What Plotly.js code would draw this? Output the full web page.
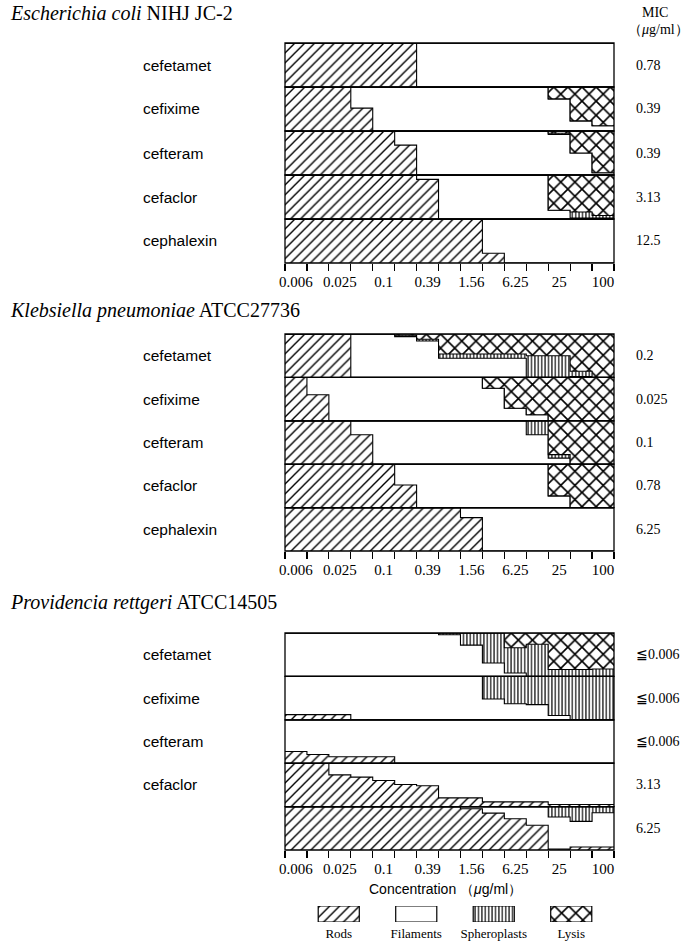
<!DOCTYPE html>
<html><head><meta charset="utf-8">
<script src="https://cdn.plot.ly/plotly-3.0.1.min.js"></script>
<style>html,body{margin:0;padding:0;background:#fff}</style>
</head><body><div id="chart" style="width:696px;height:943px"></div>
<script>
// ---------- DATA ----------
const concentrations = ['0.006','0.012','0.025','0.05','0.1','0.2','0.39','0.78','1.56','3.13','6.25','12.5','25','50','100'];
const tickLabels = ['0.006','0.025','0.1','0.39','1.56','6.25','25','100'];
const tickConcIndex = [0,2,4,6,8,10,12,14];
const legendNames = ['Rods','Filaments','Spheroplasts','Lysis'];

const ecoliTitle = '<i>Escherichia coli</i> NIHJ JC-2';
const ecoliDrugs = ['cefetamet','cefixime','cefteram','cefaclor','cephalexin'];
const ecoliMIC = ['0.78','0.39','0.39','3.13','12.5'];
const ecoliRods = [
  [100,100,100,100,100,100,0,0,0,0,0,0,0,0,0],
  [100,100,100,52,0,0,0,0,0,0,0,0,0,0,0],
  [100,100,100,100,100,68,0,0,0,0,0,0,0,0,0],
  [100,100,100,100,100,100,90,0,0,0,0,0,0,0,0],
  [100,100,100,100,100,100,100,100,100,22,0,0,0,0,0]
];
const ecoliSpheroplasts = [
  [0,0,0,0,0,0,0,0,0,0,0,0,0,0,0],
  [0,0,0,0,0,0,0,0,0,0,0,0,0,0,0],
  [0,0,0,0,0,0,0,0,0,0,0,0,3,0,0],
  [0,0,0,0,0,0,0,0,0,0,0,0,0,14,6],
  [0,0,0,0,0,0,0,0,0,0,0,0,0,0,0]
];
const ecoliLysis = [
  [0,0,0,0,0,0,0,0,0,0,0,0,0,0,0],
  [0,0,0,0,0,0,0,0,0,0,0,0,27,77,88],
  [0,0,0,0,0,0,0,0,0,0,0,0,5,50,95],
  [0,0,0,0,0,0,0,0,0,0,0,0,80,84,92],
  [0,0,0,0,0,0,0,0,0,0,0,0,0,0,0]
];

const kpTitle = '<i>Klebsiella pneumoniae</i> ATCC27736';
const kpDrugs = ['cefetamet','cefixime','cefteram','cefaclor','cephalexin'];
const kpMIC = ['0.2','0.025','0.1','0.78','6.25'];
const kpRods = [
  [100,100,100,0,0,0,0,0,0,0,0,0,0,0,0],
  [100,60,0,0,0,0,0,0,0,0,0,0,0,0,0],
  [100,100,100,68,0,0,0,0,0,0,0,0,0,0,0],
  [100,100,100,100,100,52,0,0,0,0,0,0,0,0,0],
  [100,100,100,100,100,100,100,100,77,0,0,0,0,0,0]
];
const kpSpheroplasts = [
  [0,0,0,0,0,3,4,10,10,10,10,50,50,12,0],
  [0,0,0,0,0,0,0,0,0,0,0,0,0,0,0],
  [0,0,0,0,0,0,0,0,0,0,0,32,8,0,0],
  [0,0,0,0,0,0,0,0,0,0,0,0,0,0,0],
  [0,0,0,0,0,0,0,0,0,0,0,0,0,0,0]
];
const kpLysis = [
  [0,0,0,0,0,3,12,46,46,46,46,50,50,86,100],
  [0,0,0,0,0,0,0,0,0,25,71,86,100,100,100],
  [0,0,0,0,0,0,0,0,0,0,0,0,78,100,100],
  [0,0,0,0,0,0,0,0,0,0,0,0,73,100,100],
  [0,0,0,0,0,0,0,0,0,0,0,0,0,0,0]
];

const prTitle = '<i>Providencia rettgeri</i> ATCC14505';
const prDrugs = ['cefetamet','cefixime','cefteram','cefaclor',''];
const prMIC = ['≦0.006','≦0.006','≦0.006','3.13','6.25'];
const prRods = [
  [0,0,0,0,0,0,0,0,0,0,0,0,0,0,0],
  [12,12,12,0,0,0,0,0,0,0,0,0,0,0,0],
  [27,20,15,15,15,0,0,0,0,0,0,0,0,0,0],
  [100,100,73,68,60,51,48,20,20,11,11,11,5,5,5],
  [100,100,100,100,100,100,100,100,95,85,72,57,2,7,7]
];
const prSpheroplasts = [
  [0,0,0,0,0,0,0,4,28,69,58,74,16,16,17],
  [0,0,0,0,0,0,0,0,0,52,63,65,90,100,100],
  [0,0,0,0,0,0,0,0,0,0,0,0,0,0,0],
  [0,0,0,0,0,0,0,0,0,0,0,0,0,0,0],
  [0,0,0,0,0,0,0,0,0,0,0,0,24,34,14]
];
const prLysis = [
  [0,0,0,0,0,0,0,0,0,0,34,26,84,84,83],
  [0,0,0,0,0,0,0,0,0,0,0,0,0,0,0],
  [0,0,0,0,0,0,0,0,0,0,0,0,0,0,0],
  [0,0,0,0,0,0,0,0,0,0,0,0,0,0,0],
  [0,0,0,0,0,0,0,0,0,0,0,0,0,0,0]
];

// ---------- BUILD ----------
const panels = [
  {title: ecoliTitle, drugs: ecoliDrugs, mic: ecoliMIC, rods: ecoliRods, sph: ecoliSpheroplasts, lys: ecoliLysis},
  {title: kpTitle, drugs: kpDrugs, mic: kpMIC, rods: kpRods, sph: kpSpheroplasts, lys: kpLysis},
  {title: prTitle, drugs: prDrugs, mic: prMIC, rods: prRods, sph: prSpheroplasts, lys: prLysis}
];

const W = 696, H = 943;
const px = v => v / W, py = v => 1 - v / H;
const xLeft = 285, xRight = 614;
const panelTop = [43, 334, 633], rowH = [44, 43.4, 43.4];
const titleY = [13, 310, 602];
const serif = 'Liberation Serif, Times New Roman, serif';
const sans = 'Liberation Sans, Arial, sans-serif';

const patRods = {shape: '/', fgcolor: 'black', bgcolor: 'white', size: 7, solidity: 0.2, fillmode: 'replace'};
const patSph = {shape: '|', fgcolor: 'black', bgcolor: 'white', size: 3.4, solidity: 0.34, fillmode: 'replace'};
const patLys = {shape: 'x', fgcolor: 'black', bgcolor: 'white', size: 10, solidity: 0.3, fillmode: 'replace'};

const traces = [], shapes = [], annotations = [];
const layout = {
  width: W, height: H, margin: {l: 0, r: 0, t: 0, b: 0},
  paper_bgcolor: 'white', plot_bgcolor: 'rgba(0,0,0,0)',
  showlegend: false, bargap: 0.47
};

const binEdges = concentrations.map((c, i) => i).concat([concentrations.length]);
let yi = 0;
panels.forEach((p, pi) => {
  const xa = pi === 0 ? 'x' : 'x' + (pi + 1);
  const xkey = pi === 0 ? 'xaxis' : 'xaxis' + (pi + 1);
  let bottomY = 'y';
  annotations.push({xref: 'paper', yref: 'paper', x: px(8), y: py(titleY[pi]), xanchor: 'left', yanchor: 'middle',
    text: p.title, showarrow: false, font: {family: serif, size: 20, color: 'black'}});
  for (let r = 0; r < 5; r++) {
    yi++;
    const ya = yi === 1 ? 'y' : 'y' + yi;
    const ykey = yi === 1 ? 'yaxis' : 'yaxis' + yi;
    const top = panelTop[pi] + r * rowH[pi], bot = top + rowH[pi];
    layout[ykey] = {domain: [py(bot), py(top)], range: [0, 100], anchor: xa, visible: false, fixedrange: true};
    bottomY = ya;
    const rods = p.rods[r], sph = p.sph[r], lys = p.lys[r];
    const fil = rods.map((v, i) => 100 - v - sph[i] - lys[i]);
    const series = [
      [rods, {fillpattern: patRods, fillcolor: 'white'}],
      [fil, {fillcolor: 'white'}],
      [sph, {fillpattern: patSph, fillcolor: 'white'}],
      [lys, {fillpattern: patLys, fillcolor: 'white'}]
    ];
    series.forEach(([vals, opts], si) => {
      traces.push(Object.assign({
        type: 'scatter', mode: 'lines', name: legendNames[si],
        x: binEdges, y: vals.concat([vals[vals.length - 1]]),
        xaxis: xa, yaxis: ya, stackgroup: 'g' + yi,
        line: {shape: 'hv', color: 'black', width: 1.1},
        hoverinfo: 'skip', showlegend: false
      }, opts));
    });
    shapes.push({type: 'rect', xref: xa + ' domain', yref: ya + ' domain', x0: 0, x1: 1, y0: 0, y1: 1,
      line: {color: 'black', width: 1.3}, layer: 'above'});
    const cy = (top + bot) / 2;
    if (p.drugs[r]) annotations.push({xref: 'paper', yref: 'paper', x: px(141), y: py(cy), xanchor: 'left', yanchor: 'middle',
      text: p.drugs[r], showarrow: false, font: {family: sans, size: 15.5, color: 'black'}});
    annotations.push({xref: 'paper', yref: 'paper', x: px(634), y: py(cy), xanchor: 'left', yanchor: 'middle',
      text: p.mic[r], showarrow: false, font: {family: serif, size: 14, color: 'black'}});
  }
  layout[xkey] = {
    domain: [px(xLeft), px(xRight)], range: [0, concentrations.length], anchor: bottomY,
    tickmode: 'array', tickvals: tickConcIndex.map(i => i + 0.5), ticktext: tickLabels,
    ticks: '', showline: false, showgrid: false, zeroline: false, fixedrange: true,
    ticklabelstandoff: 8,
    tickfont: {family: serif, size: 15, color: 'black'},
    minor: {tickmode: 'array', tickvals: binEdges, ticks: 'outside', ticklen: 7, tickwidth: 1.2, tickcolor: 'black', showgrid: false}
  };
});

// MIC header
annotations.push({xref: 'paper', yref: 'paper', x: px(655), y: py(12), xanchor: 'center', yanchor: 'middle',
  text: 'MIC', showarrow: false, font: {family: serif, size: 14, color: 'black'}});
annotations.push({xref: 'paper', yref: 'paper', x: px(658), y: py(30), xanchor: 'center', yanchor: 'middle',
  text: '（<i>μ</i>g/ml）', showarrow: false, font: {family: serif, size: 14, color: 'black'}});
// axis title
annotations.push({xref: 'paper', yref: 'paper', x: px(445), y: py(889), xanchor: 'center', yanchor: 'middle',
  text: 'Concentration （<i>μ</i>g/ml）', showarrow: false, font: {family: sans, size: 14, color: 'black'}});

// legend swatches as a tiny bar subplot
layout.xaxis4 = {domain: [px(300), px(610)], type: 'category', anchor: 'y16', showgrid: false, zeroline: false,
  showline: false, ticks: '', fixedrange: true, ticklabelstandoff: 2, tickfont: {family: serif, size: 13, color: 'black'}};
layout.yaxis16 = {domain: [py(922), py(906)], range: [0, 1], visible: false, fixedrange: true};
traces.push({
  type: 'bar', x: legendNames, y: legendNames.map(() => 1), xaxis: 'x4', yaxis: 'y16', cliponaxis: false,
  hoverinfo: 'skip', showlegend: false,
  marker: {color: 'white', line: {color: 'black', width: 1.2},
    pattern: {shape: ['/', '', '|', 'x'], fgcolor: 'black', bgcolor: 'white', size: [7, 7, 3.4, 10],
      solidity: [0.2, 0.1, 0.34, 0.3], fillmode: 'replace'}}
});

layout.shapes = shapes;
layout.annotations = annotations;
Plotly.newPlot('chart', traces, layout, {displayModeBar: false, staticPlot: true});
</script></body></html>
